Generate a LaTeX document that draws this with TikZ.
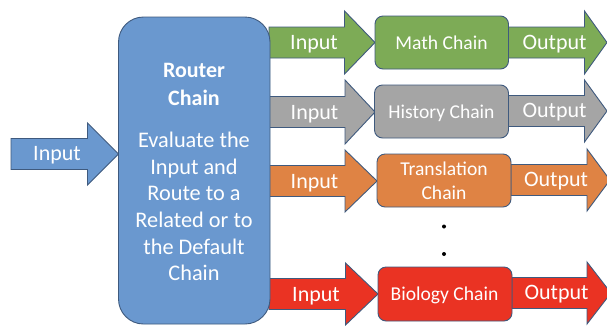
\documentclass[tikz,border=0pt]{standalone}
\usepackage{fontspec}
\setmainfont{Carlito}
\definecolor{cblue}{HTML}{6A98CF}
\definecolor{cgreen}{HTML}{7DAB56}
\definecolor{cgray}{HTML}{A5A5A5}
\definecolor{corange}{HTML}{DF8344}
\definecolor{cred}{HTML}{EA3323}
\definecolor{cline}{HTML}{3F5A7E}
\tikzset{
  flowarrow/.style={draw=cline,line width=0.9pt,line join=miter,fill=#1},
  chainbox/.style={draw=cline,line width=0.9pt,rounded corners=8pt,fill=#1},
  flowlabel/.style={text=white,font=\fontsize{22}{24}\selectfont,inner sep=0pt},
  chainlabel/.style={text=white,font=\fontsize{19.6}{24}\selectfont,inner sep=0pt,align=center},
  routerlabel/.style={text=white,font=\fontsize{22.3}{26.6}\selectfont,inner sep=0pt,align=center},
  routerhead/.style={text=white,font=\fontsize{22}{27.5}\selectfont\bfseries,inner sep=0pt,align=center},
  dotmark/.style={fill=black,circle,inner sep=0pt,minimum size=4pt},
}
% start, neck, tip, centre y, half shaft, half head, colour
\newcommand{\flowshape}[7]{%
  \draw[flowarrow=#7] (#1,#4-#5) -- (#2,#4-#5) -- (#2,#4-#6) -- (#3,#4)
    -- (#2,#4+#6) -- (#2,#4+#5) -- (#1,#4+#5) -- cycle;}
\newcommand{\chainshape}[5]{%
  \draw[chainbox=#5] (#1,#3) rectangle (#2,#4);}
\begin{document}
\begin{tikzpicture}[x=1pt,y=-1pt]
\useasboundingbox (0,0) rectangle (607,325);
\clip (0,0) rectangle (607,325);
\fill[white] (0,0) rectangle (607,325);
% input arrow
\flowshape{11}{87.5}{118.5}{154}{15.5}{31}{cblue}
\node[flowlabel] (mainin) at (57,155.5) {Input};
% outgoing arrows (behind router and boxes)
\flowshape{269}{344.5}{375}{42.5}{15.5}{31.5}{cgreen}
\flowshape{269}{345}{375}{112}{15.5}{32}{cgray}
\flowshape{269}{345}{377}{181}{15.5}{31}{corange}
\flowshape{269}{345.5}{378}{294}{15.5}{31}{cred}
\flowshape{508}{584.5}{607}{42.5}{15.5}{31.5}{cgreen}
\flowshape{508}{584.5}{607}{111}{15.5}{31}{cgray}
\flowshape{511}{587}{610}{180}{15.5}{31}{corange}
\flowshape{512}{587}{611}{293}{15.5}{31}{cred}
% router
\draw[flowarrow=cblue,rounded corners=25pt] (118.5,17) rectangle (270,324);
\node[routerhead] (router) at (194,84.5) {Router\\Chain};
\node[routerlabel] (routertext) at (194,206.5) {Evaluate the\\Input and\\Route to a\\Related or to\\the Default\\Chain};
% chain boxes
\chainshape{375}{508.5}{16}{69}{cgreen}
\chainshape{374.5}{508.5}{85}{138}{cgray}
\chainshape{377}{511}{154}{207}{corange}
\chainshape{378}{512}{267}{321}{cred}
\node[chainlabel] (math) at (441.5,43) {Math Chain};
\node[chainlabel] (history) at (441.5,113) {History Chain};
\node[chainlabel] (translation) at (444,181) {Translation\\Chain};
\node[chainlabel] (biology) at (444.5,295) {Biology Chain};
% labels
\node[flowlabel] (in1) at (314,44) {Input};
\node[flowlabel] (in2) at (314.5,114) {Input};
\node[flowlabel] (in3) at (314.5,183) {Input};
\node[flowlabel] (in4) at (316,296) {Input};
\node[flowlabel] (out1) at (554.5,44) {Output};
\node[flowlabel] (out2) at (554.5,112.5) {Output};
\node[flowlabel] (out3) at (556,181.5) {Output};
\node[flowlabel] (out4) at (556.5,294.5) {Output};
% dots
\node[dotmark] (dot1) at (444,226.5) {};
\node[dotmark] (dot2) at (444,254) {};
\end{tikzpicture}
\end{document}
